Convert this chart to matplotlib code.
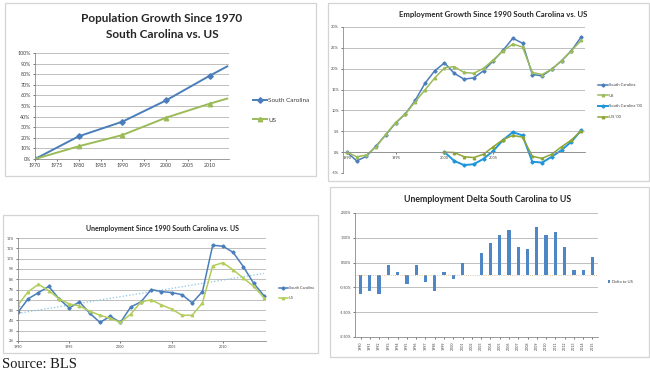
import numpy as np
import matplotlib
matplotlib.use('Agg')
import matplotlib.pyplot as plt
from matplotlib.patches import Rectangle
from matplotlib.ticker import FuncFormatter

plt.rcParams['font.family'] = ['Lato', 'DejaVu Sans']

# Population growth since 1970 (%)
pop_years = [1970, 1980, 1990, 2000, 2010, 2014]
pop_sc = [0, 21.4, 35.2, 55.3, 78.6, 87.4]
pop_us = [0, 12.0, 22.6, 39.0, 52.2, 57.0]
pop_xticks = [1970, 1975, 1980, 1985, 1990, 1995, 2000, 2005, 2010]

# Employment growth since 1990 / since 2000 (%)
emp_years = list(range(1990, 2015))
emp_sc = [0, -2.1, -1.0, 1.5, 4.2, 7.0, 9.2, 12.4, 16.5, 19.5, 21.4, 18.9, 17.5,
          17.8, 19.5, 21.9, 24.4, 27.3, 26.1, 18.6, 18.3, 19.9, 21.9, 24.3, 27.6]
emp_us = [0, -1.1, -0.7, 1.3, 4.3, 7.1, 9.2, 12.1, 14.9, 17.8, 20.2, 20.5, 19.1,
          18.9, 20.1, 22.1, 24.3, 25.9, 25.2, 19.1, 18.6, 19.9, 21.9, 24.3, 26.8]
emp00_years = list(range(2000, 2015))
emp00_sc = [0, -2.1, -3.1, -2.9, -1.6, 0.3, 2.9, 4.8, 4.0, -2.3, -2.5, -1.1, 0.5, 2.5, 5.2]
emp00_us = [0, -0.1, -1.1, -1.3, -0.5, 1.3, 3.0, 4.0, 3.6, -1.0, -1.5, -0.5, 1.3, 2.9, 5.1]
emp_xticks = [1990, 1995, 2000, 2005]

# Unemployment rate (%)
unemp_years = list(range(1990, 2015))
unemp_sc = [4.8, 6.1, 6.7, 7.3, 6.1, 5.2, 5.8, 4.7, 3.8, 4.4, 3.8, 5.3, 5.8,
            7.0, 6.8, 6.7, 6.5, 5.7, 6.8, 11.3, 11.2, 10.6, 9.2, 7.6, 6.4]
unemp_us = [5.5, 6.8, 7.5, 6.9, 6.1, 5.6, 5.4, 4.9, 4.5, 4.2, 3.8, 4.6, 5.8,
            6.0, 5.5, 5.1, 4.5, 4.5, 5.7, 9.3, 9.6, 8.9, 8.1, 7.3, 6.2]
unemp_xticks = [1990, 1995, 2000, 2005, 2010]

# Unemployment delta SC - US (percentage points)
delta_years = list(range(1990, 2016))
delta = [-0.76, -0.66, -0.76, 0.39, 0.12, -0.36, 0.39, -0.28, -0.66, 0.12, -0.16, 0.5, 0.0,
         0.89, 1.3, 1.6, 1.81, 1.11, 1.03, 1.92, 1.6, 1.72, 1.11, 0.19, 0.19, 0.73]
delta_ticks = [-2.5, -1.5, -0.5, 0.5, 1.5, 2.5]

SC_BLUE = '#4a7ebb'
US_GREEN = '#9bbb59'
GRID = '#b4b4b4'
TXT = '#404040'

W, H = 650, 372
fig = plt.figure(figsize=(W / 100, H / 100), dpi=100)


def px_axes(l, t, r, b):
    return fig.add_axes([l / W, 1 - b / H, (r - l) / W, (b - t) / H])


def panel(l, t, r, b):
    fig.patches.append(Rectangle((l / W, 1 - b / H), (r - l) / W, (b - t) / H,
                                 transform=fig.transFigure, fill=False,
                                 ec='#d4d4d4', lw=0.9))


def style(ax, fs):
    for s in ['top', 'right']:
        ax.spines[s].set_visible(False)
    for s in ['left', 'bottom']:
        ax.spines[s].set_color('#8c8c8c')
        ax.spines[s].set_linewidth(0.6)
    ax.grid(axis='y', color=GRID, lw=0.6)
    ax.set_axisbelow(True)
    ax.tick_params(labelsize=fs, colors=TXT, length=1.5, width=0.5, pad=1.5)


def ftext(x, y, s, **kw):
    fig.text(x / W, 1 - y / H, s, **kw)


pct = FuncFormatter(lambda v, p: '{:.0f}%'.format(v))

# ---- Population growth ----
panel(5, 3, 316, 176)
ax1 = px_axes(35, 53, 229, 159)
ax1.plot(pop_years, pop_sc, color=SC_BLUE, lw=1.4, marker='D', ms=2.8, markevery=[0, 1, 2, 3, 4],
         label='South Carolina')
ax1.plot(pop_years, pop_us, color=US_GREEN, lw=1.4, marker='^', ms=3.2, markevery=[0, 1, 2, 3, 4],
         label='US')
ax1.set_xlim(1970, 2014.4)
ax1.set_ylim(0, 100)
ax1.set_yticks(range(0, 101, 10))
ax1.yaxis.set_major_formatter(pct)
ax1.set_xticks(pop_xticks)
style(ax1, 3.8)
ax1.legend(loc='center left', bbox_to_anchor=(247 / W, 1 - 110 / H), bbox_transform=fig.transFigure,
           frameon=False, fontsize=4.6, handlelength=2.2, labelspacing=2.2, handletextpad=0.2,
           labelcolor=TXT)
ftext(162, 18, 'Population Growth Since 1970', ha='center', va='center',
      fontsize=8.5, fontweight='bold', color='#262626')
ftext(162, 34, 'South Carolina vs. US', ha='center', va='center',
      fontsize=8.5, fontweight='bold', color='#262626')

# ---- Employment growth ----
panel(328, 3, 649, 181)
ax2 = px_axes(343, 27, 585, 173)
ax2.plot(emp_years, emp_sc, color=SC_BLUE, lw=1.1, marker='D', ms=1.6, label='South Carolina')
ax2.plot(emp_years, emp_us, color=US_GREEN, lw=1.1, marker='^', ms=1.8, label='US')
ax2.plot(emp00_years, emp00_sc, color='#1f96dc', lw=1.4, marker='D', ms=1.6, label="South Carolina '00")
ax2.plot(emp00_years, emp00_us, color='#8da534', lw=1.1, marker='^', ms=1.8, label="US '00")
ax2.set_xlim(1989.6, 2014.4)
ax2.set_ylim(-5, 30)
ax2.set_yticks(range(-5, 31, 5))
ax2.yaxis.set_major_formatter(pct)
ax2.set_xticks(emp_xticks)
style(ax2, 2.8)
ax2.spines['bottom'].set_position(('data', 0))
ax2.grid(axis='y', color=GRID, lw=0.6)
ax2.legend(loc='center left', bbox_to_anchor=(594 / W, 1 - 101 / H), bbox_transform=fig.transFigure,
           frameon=False, fontsize=3.0, handlelength=2.4, labelspacing=1.6, handletextpad=0.3,
           labelcolor=TXT)
ftext(493, 15, 'Employment Growth Since 1990 South Carolina vs. US', ha='center', va='center',
      fontsize=5.6, fontweight='bold', color='#262626')

# ---- Unemployment ----
panel(3, 215, 318, 353)
ax3 = px_axes(18, 238, 266, 341)
trend = np.polyfit(unemp_years, unemp_sc, 1)
ax3.plot(unemp_years, np.polyval(trend, unemp_years), color='#86c4e4', lw=0.9, ls=':')
ax3.plot(unemp_years, unemp_sc, color=SC_BLUE, lw=1.1, marker='D', ms=1.6, label='South Carolina')
ax3.plot(unemp_years, unemp_us, color='#b3cd5c', lw=1.1, marker='^', ms=1.8, label='US')
ax3.set_xlim(1990, 2014.2)
ax3.set_ylim(2, 12)
ax3.set_yticks(range(2, 13))
ax3.yaxis.set_major_formatter(pct)
ax3.set_xticks(unemp_xticks)
style(ax3, 2.6)
ax3.legend(loc='center left', bbox_to_anchor=(275 / W, 1 - 293 / H), bbox_transform=fig.transFigure,
           frameon=False, fontsize=2.8, handlelength=2.4, labelspacing=1.6, handletextpad=0.3,
           labelcolor=TXT)
ftext(162, 228, 'Unemployment Since 1990 South Carolina vs. US', ha='center', va='center',
      fontsize=5.0, fontweight='bold', color='#262626')

# ---- Unemployment delta ----
panel(330, 187, 649, 357)
ax4 = px_axes(355, 213, 598, 337)
ax4.bar(delta_years, delta, width=0.35, color='#4f86c6', label='Delta to US')
ax4.axhline(0, color='#d8b48a', lw=0.6, ls=':')
ax4.set_xlim(1989.4, 2015.6)
ax4.set_ylim(-2.5, 2.5)
ax4.set_yticks(delta_ticks)
ax4.yaxis.set_major_formatter(FuncFormatter(lambda v, p: '{:.2f}%'.format(v)))
ax4.set_xticks(delta_years)
ax4.set_xticklabels([str(y) for y in delta_years], rotation=90)
style(ax4, 2.6)
ax4.legend(loc='center left', bbox_to_anchor=(604 / W, 1 - 282 / H), bbox_transform=fig.transFigure,
           frameon=False, fontsize=3.0, handlelength=0.5, handleheight=0.5, handletextpad=0.4,
           labelcolor=TXT)
ftext(488, 199, 'Unemployment Delta South Carolina to US', ha='center', va='center',
      fontsize=6.3, fontweight='bold', color='#262626')

ftext(2, 365, 'Source: BLS', ha='left', va='center', fontsize=10.5,
      family=['Liberation Serif', 'DejaVu Serif'], color='#1a1a1a')

fig.savefig('out.png', dpi=100, facecolor='white')
